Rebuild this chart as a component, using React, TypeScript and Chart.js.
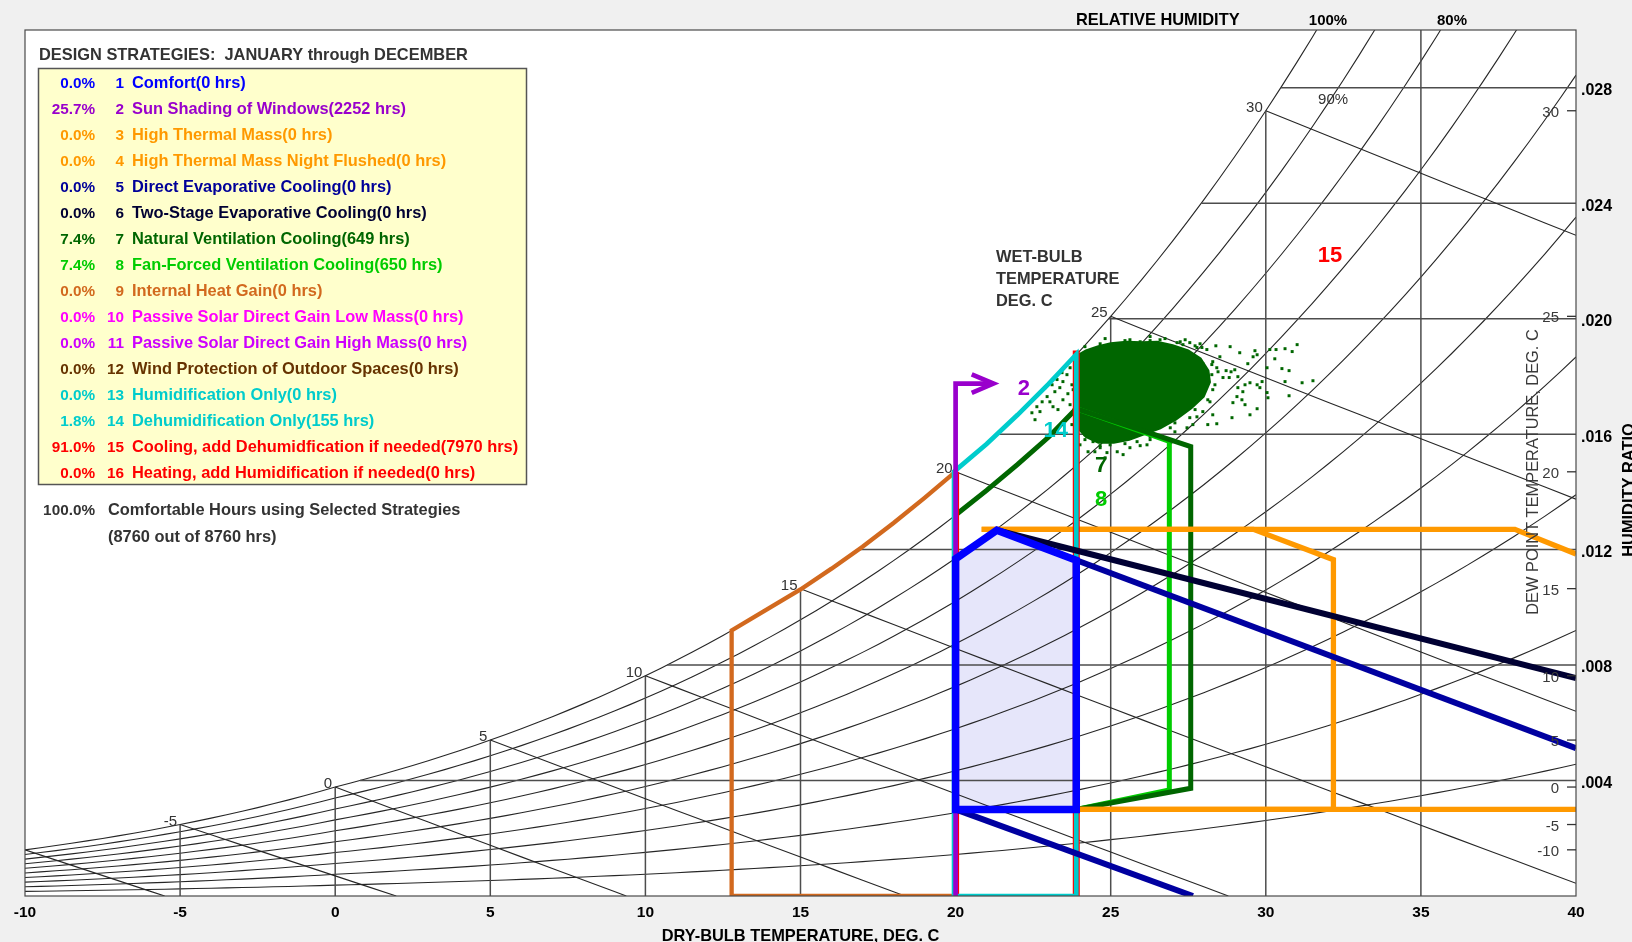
import React, { useEffect, useRef } from 'react';
import { Chart, registerables } from 'chart.js';

Chart.register(...registerables);

type Pt = [number, number];

const FONT = '"Liberation Sans", Arial, Helvetica, sans-serif';

// ---------------- axes ----------------
const X_MIN = -10;
const X_MAX = 40;
const Y_MIN = 0;
const Y_MAX = 0.03;
const xTickValues = [-10, -5, 0, 5, 10, 15, 20, 25, 30, 35, 40];
const yTickValues = [0.004, 0.008, 0.012, 0.016, 0.02, 0.024, 0.028];
const yTickLabels = ['.004', '.008', '.012', '.016', '.020', '.024', '.028'];

// ---------------- psychrometric grid ----------------
const rhLevels = [0.1, 0.2, 0.3, 0.4, 0.5, 0.6, 0.7, 0.8, 0.9, 1.0];
const dryBulbGridTemps = [-5, 0, 5, 10, 15, 20, 25, 30, 35];
const wetBulbTemps = [-10, -5, 0, 5, 10, 15, 20, 25, 30];
const dewPointTemps = [30, 25, 20, 15, 10, 5, 0, -5, -10];

// ---------------- design strategy zones (dry-bulb C, humidity ratio) ----------------
const comfortZone: Pt[] = [[20, 0.01168], [21.33, 0.01267], [23.89, 0.01163], [23.89, 0.003], [20, 0.003], [20, 0.01168], [21.33, 0.01267]];
const sunShadingLine: Pt[] = [[20, 0], [20, 0.01775], [21.15, 0.01775]];
const sunShadingArrow: Pt[] = [[20.52, 0.01807], [21.22, 0.01775], [20.52, 0.01743]];
const thermalMass: Pt[] = [[20.84, 0.0127], [29.6, 0.0127], [32.18, 0.01165], [32.18, 0.003], [23.89, 0.003]];
const nightFlushTop: Pt[] = [[20.84, 0.0127], [38.03, 0.0127], [40, 0.01185]];
const nightFlushBottom: Pt[] = [[23.89, 0.003], [40, 0.003]];
const directEvapUpper: Pt[] = [[21.33, 0.01267], [40, 0.00512]];
const directEvapLower: Pt[] = [[20, 0.003], [27.65, 0]];
const twoStageEvap: Pt[] = [[21.33, 0.01267], [40, 0.00755]];
const naturalVent: Pt[] = [[20, 0.0132], [21, 0.01405], [22, 0.01495], [23, 0.0159], [23.89, 0.01688], [27.58, 0.01557], [27.58, 0.00373], [23.89, 0.003]];
const fanForcedVent: Pt[] = [[23.89, 0.01688], [26.89, 0.01575], [26.89, 0.00367], [23.89, 0.003]];
const internalGain: Pt[] = [[20, 0.0147], [19, 0.01379], [18, 0.01292], [17, 0.0121], [16, 0.01134], [15, 0.01062], [14, 0.00998], [12.78, 0.0092], [12.78, 0], [20, 0]];
const dehumidification: Pt[] = [[19.95, 0.0147], [21, 0.01566], [22, 0.01667], [23, 0.01774], [23.89, 0.01876], [23.89, 0], [19.95, 0], [19.95, 0.0147], [21, 0.01566]];
const coolingEdgeLow: Pt[] = [[20, 0], [20, 0.0147]];
const coolingEdgeHigh: Pt[] = [[23.89, 0], [23.89, 0.0189]];

// ---------------- hourly climate data cloud ----------------
const cloudCore: Pt[] = [
  [23.95, 0.01875], [24.2, 0.0189], [24.6, 0.01905], [25.0, 0.01915], [25.5, 0.0192], [26.0, 0.01918],
  [26.5, 0.0192], [27.0, 0.01908], [27.5, 0.0189], [27.9, 0.01862], [28.15, 0.0182], [28.2, 0.0178],
  [28.0, 0.0173], [27.6, 0.0169], [27.1, 0.0165], [26.6, 0.0162], [26.1, 0.016], [25.6, 0.0158],
  [25.1, 0.0157], [24.6, 0.0157], [24.2, 0.0159], [23.95, 0.0162], [23.95, 0.01875],
];
const cloudPoints: Pt[] = [
  [29.65, 0.01889], [29.72, 0.01875], [30.13, 0.01893], [30.33, 0.01893], [30.62, 0.01896], [30.85, 0.01886],
  [31.01, 0.0191], [30.29, 0.01861], [30.04, 0.0183], [30.52, 0.01827], [30.75, 0.0182], [30.62, 0.01782],
  [31.17, 0.01778], [31.52, 0.01785], [30.75, 0.01733], [29.42, 0.01844], [29.59, 0.01868], [29.0, 0.01823],
  [28.88, 0.01816], [28.72, 0.0182], [28.62, 0.01796], [28.82, 0.01796], [29.1, 0.01799], [29.33, 0.01771],
  [29.49, 0.01778], [29.72, 0.01771], [29.81, 0.01761], [29.1, 0.01761], [29.26, 0.01747], [29.07, 0.0173],
  [29.23, 0.01719], [29.33, 0.01702], [28.94, 0.01709], [28.91, 0.01657], [29.49, 0.01667], [29.72, 0.01688],
  [30.04, 0.01744], [30.07, 0.01726], [29.88, 0.01782], [28.52, 0.01868], [28.29, 0.01851], [28.42, 0.0183],
  [28.26, 0.01806], [28.29, 0.01754], [28.2, 0.01712], [28.29, 0.01667], [28.13, 0.01633], [28.42, 0.01636],
  [27.97, 0.01678], [27.78, 0.0166], [27.55, 0.01657], [27.65, 0.01633], [27.46, 0.01622], [27.14, 0.01667],
  [27.07, 0.01639], [28.1, 0.01893], [27.94, 0.019], [27.78, 0.019], [27.55, 0.01917], [27.33, 0.0191],
  [27.14, 0.01917], [27.01, 0.019], [27.97, 0.01844], [28.1, 0.01775],
  [22.46, 0.01674], [22.62, 0.01695], [22.79, 0.01712], [22.95, 0.0173], [23.04, 0.01712], [23.2, 0.01747],
  [23.36, 0.01761], [23.46, 0.01782], [23.59, 0.01806], [23.69, 0.0183], [22.88, 0.01761], [23.11, 0.01771],
  [23.27, 0.01789], [23.43, 0.01813], [23.52, 0.01834], [22.72, 0.01678], [23.14, 0.01695], [23.62, 0.0174],
  [23.75, 0.01771], [23.69, 0.01702], [23.46, 0.01719], [23.3, 0.01685], [22.56, 0.0165],
  [24.07, 0.01858], [24.27, 0.01875], [24.66, 0.01886], [25.05, 0.01893], [25.3, 0.019], [25.62, 0.01896],
  [26.04, 0.019], [26.43, 0.01893], [26.81, 0.01893], [25.21, 0.01875], [26.27, 0.01924], [26.75, 0.01931],
  [27.4, 0.01927], [25.62, 0.01927], [27.88, 0.01913], [28.39, 0.01906], [28.85, 0.01903], [29.16, 0.01882],
  [24.17, 0.01598], [24.43, 0.01574], [24.66, 0.01553], [24.98, 0.01563], [25.21, 0.01539], [25.62, 0.01553],
  [25.85, 0.01574], [26.17, 0.01563], [24.01, 0.01563], [24.27, 0.01539], [24.88, 0.01536], [25.4, 0.01529],
  [24.11, 0.01615], [26.27, 0.01581], [26.59, 0.01594], [24.82, 0.01518],
  [24.17, 0.01903], [24.66, 0.01913], [25.46, 0.01924], [25.95, 0.0192], [26.59, 0.01927], [27.24, 0.0192],
  [27.72, 0.01906], [24.82, 0.01931], [26.27, 0.01938], [28.26, 0.01841], [28.36, 0.01771], [28.13, 0.01719],
  [27.72, 0.01685], [27.88, 0.01737], [28.46, 0.01816], [26.92, 0.01622], [26.27, 0.01591], [25.46, 0.01567],
  [24.66, 0.0156], [24.17, 0.01581], [25.95, 0.0156], [27.07, 0.01608], [24.49, 0.01539], [23.85, 0.01816],
  [23.79, 0.01754], [23.82, 0.01685], [23.75, 0.01633],
];

// ---------------- zone numbers on the chart ----------------
const zoneLabelTexts = ['15', '2', '14', '7', '8'];
const zoneLabelT = [32.07, 22.2, 23.23, 24.69, 24.69];
const zoneLabelW = [0.02198, 0.01737, 0.01591, 0.0147, 0.01352];
const rhLabelText = '90%';
const rhLabelT = 32.17;
const rhLabelW = 0.02742;

// ---------------- legend ----------------
const legendPercents = ['0.0%', '25.7%', '0.0%', '0.0%', '0.0%', '0.0%', '7.4%', '7.4%', '0.0%', '0.0%', '0.0%', '0.0%', '0.0%', '1.8%', '91.0%', '0.0%'];
const legendNumbers = ['1', '2', '3', '4', '5', '6', '7', '8', '9', '10', '11', '12', '13', '14', '15', '16'];
const legendLabels = [
  'Comfort(0 hrs)',
  'Sun Shading of Windows(2252 hrs)',
  'High Thermal Mass(0 hrs)',
  'High Thermal Mass Night Flushed(0 hrs)',
  'Direct Evaporative Cooling(0 hrs)',
  'Two-Stage Evaporative Cooling(0 hrs)',
  'Natural Ventilation Cooling(649 hrs)',
  'Fan-Forced Ventilation Cooling(650 hrs)',
  'Internal Heat Gain(0 hrs)',
  'Passive Solar Direct Gain Low Mass(0 hrs)',
  'Passive Solar Direct Gain High Mass(0 hrs)',
  'Wind Protection of Outdoor Spaces(0 hrs)',
  'Humidification Only(0 hrs)',
  'Dehumidification Only(155 hrs)',
  'Cooling, add Dehumidfication if needed(7970 hrs)',
  'Heating, add Humidification if needed(0 hrs)',
];
const totalPercent = '100.0%';
const totalLine1 = 'Comfortable Hours using Selected Strategies';
const totalLine2 = '(8760 out of 8760 hrs)';

// colours
const C_BLUE = '#0000FF';
const C_PURPLE = '#9900CC';
const C_ORANGE = '#FF9900';
const C_DKBLUE = '#0000A0';
const C_NAVY = '#000033';
const C_DKGREEN = '#006600';
const C_GREEN = '#00CC00';
const C_BROWN = '#D2691E';
const C_MAGENTA = '#FF00FF';
const C_VIOLET = '#CC00FF';
const C_WIND = '#663300';
const C_CYAN = '#00CCCC';
const C_RED = '#FF0000';
const legendColors = [C_BLUE, C_PURPLE, C_ORANGE, C_ORANGE, '#000099', C_NAVY, C_DKGREEN, C_GREEN, C_BROWN, C_MAGENTA, C_VIOLET, C_WIND, C_CYAN, C_CYAN, C_RED, C_RED];
const zoneLabelColors = [C_RED, C_PURPLE, C_CYAN, C_DKGREEN, C_GREEN];

// ---------------- psychrometric relations (chart geometry) ----------------
const P_ATM = 101325;
function satPressure(t: number): number {
  const T = t + 273.15;
  if (t < 0) {
    return Math.exp(-5674.5359 / T + 6.3925247 - 0.009677843 * T + 6.2215701e-7 * T * T + 2.0747825e-9 * T ** 3 - 9.484024e-13 * T ** 4 + 4.1635019 * Math.log(T));
  }
  return Math.exp(-5800.2206 / T + 1.3914993 - 0.048640239 * T + 4.1764768e-5 * T * T - 1.4452093e-8 * T ** 3 + 6.5459673 * Math.log(T));
}
const ratioFromPw = (pw: number) => (0.621945 * pw) / (P_ATM - pw);
const satRatio = (t: number) => ratioFromPw(satPressure(t));
function wetBulbRatio(t: number, twb: number): number {
  const ws = satRatio(twb);
  if (twb >= 0) return ((2501 - 2.326 * twb) * ws - 1.006 * (t - twb)) / (2501 + 1.86 * t - 4.186 * twb);
  return ((2830 - 0.24 * twb) * ws - 1.006 * (t - twb)) / (2830 + 1.86 * t - 2.1 * twb);
}
function dewPointOf(w: number): number {
  let lo = -40;
  let hi = 60;
  for (let i = 0; i < 60; i++) {
    const mid = (lo + hi) / 2;
    if (satRatio(mid) < w) lo = mid;
    else hi = mid;
  }
  return (lo + hi) / 2;
}

function rhCurve(rh: number) {
  const pts: { x: number; y: number }[] = [];
  for (let i = 0; i <= 100; i++) {
    const t = X_MIN + i * 0.5;
    const w = ratioFromPw(rh * satPressure(t));
    pts.push({ x: t, y: w });
    if (w > Y_MAX) break;
  }
  return pts;
}
function wetBulbLine(twb: number) {
  let prevT = twb;
  let prevW = satRatio(twb);
  const pts = [{ x: prevT, y: prevW }];
  for (let t = twb + 1; t <= X_MAX + 0.001; t += 1) {
    const w = wetBulbRatio(t, twb);
    if (w <= 0) {
      const f = prevW / (prevW - w);
      pts.push({ x: prevT + f * (t - prevT), y: 0 });
      return pts;
    }
    pts.push({ x: t, y: w });
    prevT = t;
    prevW = w;
  }
  return pts;
}

const toXY = (pts: Pt[]) => pts.map(([x, y]) => ({ x, y }));

function lineSet(data: any[], color: string, width: number, extra: any = {}) {
  return {
    data,
    borderColor: color,
    backgroundColor: color,
    borderWidth: width,
    pointRadius: 0,
    fill: false,
    clip: 0,
    tension: 0,
    ...extra,
  };
}

function buildDatasets() {
  const list: any[] = [];
  // comfort fill
  list.push(lineSet(toXY(comfortZone), 'rgba(0,0,0,0)', 1, { fill: 'shape', backgroundColor: '#E6E6FA' }));
  // grid
  rhLevels.forEach((rh) => list.push(lineSet(rhCurve(rh), '#262626', 1.1)));
  dryBulbGridTemps.forEach((t) => list.push(lineSet([{ x: t, y: 0 }, { x: t, y: Math.min(satRatio(t), Y_MAX + 0.001) }], '#4d4d4d', 1.5)));
  yTickValues.forEach((w) => list.push(lineSet([{ x: dewPointOf(w), y: w }, { x: X_MAX, y: w }], '#4d4d4d', 1.5)));
  wetBulbTemps.forEach((t) => list.push(lineSet(wetBulbLine(t), '#262626', 1.1)));
  // climate data
  list.push(lineSet(toXY(cloudPoints), C_DKGREEN, 0, { showLine: false, pointRadius: 2.1, pointStyle: 'rect', pointBackgroundColor: C_DKGREEN, pointBorderWidth: 0, pointBorderColor: C_DKGREEN }));
  list.push(lineSet(toXY(cloudCore), C_DKGREEN, 2, { fill: 'shape', backgroundColor: C_DKGREEN }));
  // strategies
  list.push(lineSet(toXY(fanForcedVent), C_GREEN, 5));
  list.push(lineSet(toXY(naturalVent), C_DKGREEN, 5));
  list.push(lineSet(toXY(internalGain), C_BROWN, 4.3));
  list.push(lineSet(toXY(nightFlushBottom), C_ORANGE, 5.3));
  list.push(lineSet(toXY(nightFlushTop), C_ORANGE, 5.3));
  list.push(lineSet(toXY(thermalMass), C_ORANGE, 5.3));
  list.push(lineSet(toXY(coolingEdgeLow), C_RED, 7));
  list.push(lineSet(toXY(coolingEdgeHigh), C_RED, 7));
  list.push(lineSet(toXY(dehumidification), C_CYAN, 4.7));
  list.push(lineSet(toXY(sunShadingLine), C_PURPLE, 4.7));
  list.push(lineSet(toXY(sunShadingArrow), C_PURPLE, 4.7));
  list.push(lineSet(toXY(twoStageEvap), C_NAVY, 6));
  list.push(lineSet(toXY(directEvapUpper), C_DKBLUE, 6));
  list.push(lineSet(toXY(directEvapLower), C_DKBLUE, 6));
  list.push(lineSet(toXY(comfortZone), C_BLUE, 7.5));
  const n = list.length;
  return list.map((d, i) => ({ ...d, order: n - i }));
}

const backgroundPlugin = {
  id: 'psyBackground',
  beforeDraw(chart: any) {
    const { ctx, chartArea: a } = chart;
    ctx.save();
    ctx.fillStyle = '#f0f0f0';
    ctx.fillRect(0, 0, chart.width, chart.height);
    ctx.fillStyle = '#ffffff';
    ctx.fillRect(a.left, a.top, a.right - a.left, a.bottom - a.top);
    ctx.restore();
  },
};

const overlayPlugin = {
  id: 'psyOverlay',
  afterDatasetsDraw(chart: any) {
    const { ctx, chartArea: a, scales } = chart;
    const px = (t: number) => scales.x.getPixelForValue(t);
    const py = (w: number) => scales.y.getPixelForValue(w);
    ctx.save();

    // frame
    ctx.strokeStyle = '#4a4a4a';
    ctx.lineWidth = 1.2;
    ctx.strokeRect(a.left, a.top, a.right - a.left, a.bottom - a.top);

    // clipped texts inside plot
    ctx.save();
    ctx.beginPath();
    ctx.rect(a.left, a.top, a.right - a.left, a.bottom - a.top);
    ctx.clip();
    ctx.fillStyle = '#333333';
    ctx.font = `15px ${FONT}`;
    ctx.textAlign = 'right';
    ctx.textBaseline = 'alphabetic';
    wetBulbTemps.forEach((t) => ctx.fillText(String(t), px(t) - 3, py(satRatio(t)) + 1));
    ctx.textAlign = 'center';
    ctx.fillText(rhLabelText, px(rhLabelT), py(rhLabelW));
    ctx.font = `bold 16.4px ${FONT}`;
    ctx.textAlign = 'left';
    ctx.fillText('WET-BULB', 996, 262);
    ctx.fillText('TEMPERATURE', 996, 284);
    ctx.fillText('DEG. C', 996, 306);
    ctx.font = `bold 22px ${FONT}`;
    ctx.textAlign = 'center';
    zoneLabelTexts.forEach((s, i) => {
      ctx.fillStyle = zoneLabelColors[i];
      ctx.fillText(s, px(zoneLabelT[i]), py(zoneLabelW[i]));
    });
    // dew point title
    ctx.fillStyle = '#3a3a3a';
    ctx.font = `16.4px ${FONT}`;
    ctx.save();
    ctx.translate(a.right - 38, 472);
    ctx.rotate(-Math.PI / 2);
    ctx.textAlign = 'center';
    ctx.fillText('DEW POINT TEMPERATURE, DEG. C', 0, 0);
    ctx.restore();
    // dew point ticks
    ctx.strokeStyle = '#333333';
    ctx.lineWidth = 1.3;
    ctx.font = `15px ${FONT}`;
    ctx.textAlign = 'right';
    ctx.textBaseline = 'middle';
    dewPointTemps.forEach((td) => {
      const y = py(satRatio(td));
      ctx.beginPath();
      ctx.moveTo(a.right - 9, y);
      ctx.lineTo(a.right, y);
      ctx.stroke();
      ctx.fillText(String(td), a.right - 17, y + 2);
    });
    ctx.restore();

    // top captions
    ctx.fillStyle = '#000000';
    ctx.textBaseline = 'alphabetic';
    ctx.font = `bold 16.4px ${FONT}`;
    ctx.textAlign = 'left';
    ctx.fillText('RELATIVE HUMIDITY', 1076, 25);
    ctx.font = `bold 15px ${FONT}`;
    ctx.textAlign = 'center';
    ctx.fillText('100%', 1328, 25);
    ctx.fillText('80%', 1452, 25);

    // bottom axis title
    ctx.font = `bold 16.4px ${FONT}`;
    ctx.fillText('DRY-BULB TEMPERATURE, DEG. C', (a.left + a.right) / 2, 941);

    // right axis title
    ctx.save();
    ctx.translate(1634, 490);
    ctx.rotate(-Math.PI / 2);
    ctx.textAlign = 'center';
    ctx.fillText('HUMIDITY RATIO', 0, 0);
    ctx.restore();

    // legend
    ctx.fillStyle = '#333333';
    ctx.font = `bold 16.4px ${FONT}`;
    ctx.textAlign = 'left';
    ctx.fillText('DESIGN STRATEGIES:  JANUARY through DECEMBER', 39, 60);
    ctx.fillStyle = '#FFFFCC';
    ctx.fillRect(38.5, 68.5, 488, 416);
    ctx.strokeStyle = '#555555';
    ctx.lineWidth = 1.5;
    ctx.strokeRect(38.5, 68.5, 488, 416);
    legendLabels.forEach((label, i) => {
      const y = 87.5 + i * 26;
      ctx.fillStyle = legendColors[i];
      ctx.font = `bold 15.3px ${FONT}`;
      ctx.textAlign = 'right';
      ctx.fillText(legendPercents[i], 95, y);
      ctx.fillText(legendNumbers[i], 124, y);
      ctx.font = `bold 16.4px ${FONT}`;
      ctx.textAlign = 'left';
      ctx.fillText(label, 132, y);
    });
    ctx.fillStyle = '#333333';
    ctx.font = `bold 15.3px ${FONT}`;
    ctx.textAlign = 'right';
    ctx.fillText(totalPercent, 95, 515);
    ctx.font = `bold 16.4px ${FONT}`;
    ctx.textAlign = 'left';
    ctx.fillText(totalLine1, 108, 515);
    ctx.fillText(totalLine2, 108, 541.5);

    ctx.restore();
  },
};

export default function App() {
  const ref = useRef<HTMLCanvasElement | null>(null);
  useEffect(() => {
    const canvas = ref.current;
    if (!canvas) return;
    const chart = new Chart(canvas, {
      type: 'line',
      data: { datasets: buildDatasets() as any },
      options: {
        responsive: false,
        animation: false,
        devicePixelRatio: 1,
        events: [],
        layout: { padding: { left: 25, top: 30, right: 0, bottom: 0 } },
        elements: { point: { radius: 0 }, line: { tension: 0 } },
        plugins: { legend: { display: false }, tooltip: { enabled: false }, title: { display: false } },
        scales: {
          x: {
            type: 'linear',
            position: 'bottom',
            min: X_MIN,
            max: X_MAX,
            afterBuildTicks: (s: any) => {
              s.ticks = xTickValues.map((v) => ({ value: v }));
            },
            afterFit: (s: any) => {
              s.height = 46;
            },
            grid: { display: false, drawTicks: false },
            border: { display: false },
            ticks: {
              autoSkip: false,
              maxRotation: 0,
              padding: 7,
              color: '#000000',
              font: { family: FONT, size: 15.5, weight: 'bold' },
              callback: (_v: any, i: number) => String(xTickValues[i]),
            },
          },
          y: {
            type: 'linear',
            position: 'right',
            min: Y_MIN,
            max: Y_MAX,
            afterBuildTicks: (s: any) => {
              s.ticks = yTickValues.map((v) => ({ value: v }));
            },
            afterFit: (s: any) => {
              s.width = 56;
            },
            grid: { display: false, drawTicks: false },
            border: { display: false },
            ticks: {
              autoSkip: false,
              padding: 5,
              labelOffset: 3,
              color: '#000000',
              font: { family: FONT, size: 16, weight: 'bold' },
              callback: (_v: any, i: number) => yTickLabels[i],
            },
          },
        },
      } as any,
      plugins: [backgroundPlugin, overlayPlugin],
    });
    return () => chart.destroy();
  }, []);
  return (
    <div style={{ position: 'absolute', left: 0, top: 0, width: 1632, height: 942, background: '#f0f0f0' }}>
      <canvas ref={ref} width={1632} height={942} style={{ display: 'block', width: 1632, height: 942 }} />
    </div>
  );
}
